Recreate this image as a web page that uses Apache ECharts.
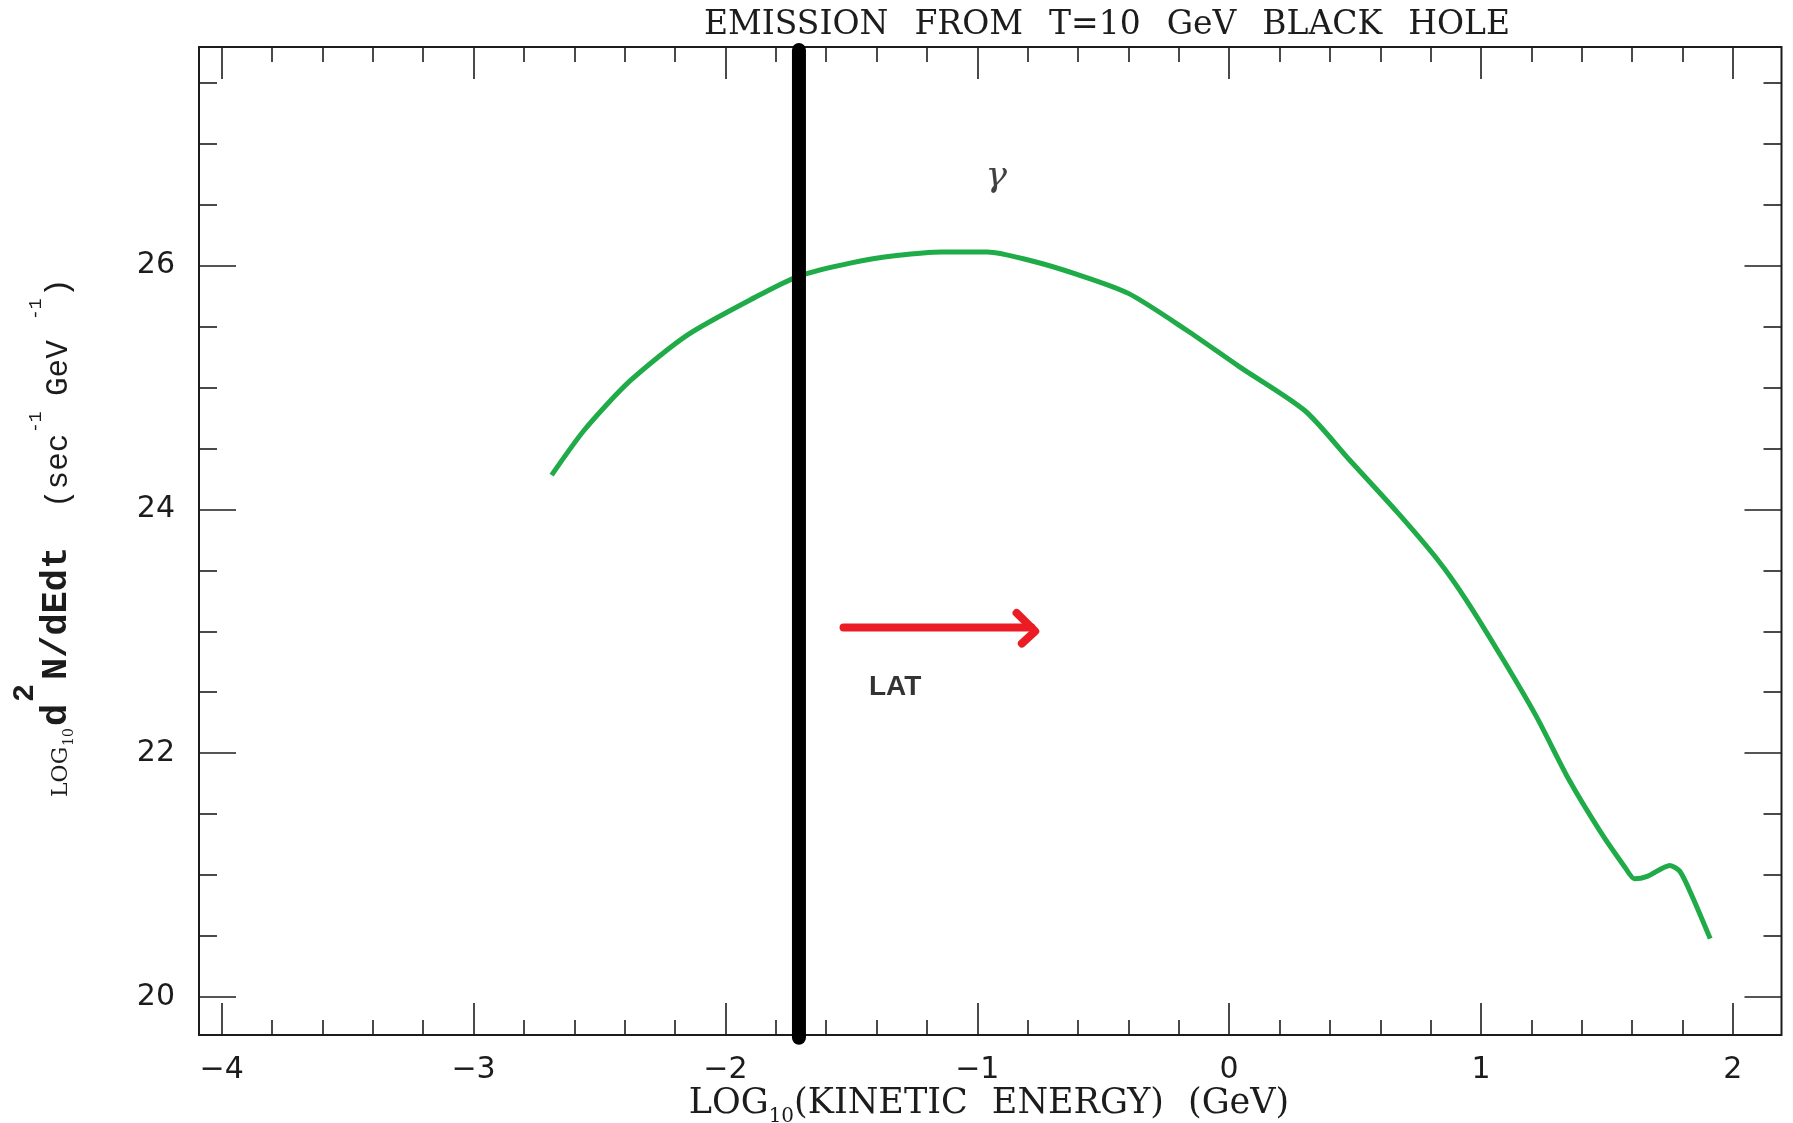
<!DOCTYPE html>
<html><head><meta charset="utf-8">
<script src="https://cdn.jsdelivr.net/npm/echarts@6/dist/echarts.min.js"></script>
<style>html,body{margin:0;padding:0;background:#fff}#c{width:1793px;height:1123px}</style>
</head><body><div id="c"></div>
<script>
// ---- data ----
const energyLog = [-2.69,-2.56,-2.38,-2.15,-1.88,-1.71,-1.50,-1.32,-1.14,-0.96,-0.79,-0.61,-0.40,-0.17,0.04,0.30,0.48,0.67,0.83,0.94,1.09,1.22,1.35,1.47,1.57,1.61,1.66,1.75,1.79,1.84,1.91];
const rateLog   = [24.28,24.65,25.05,25.43,25.74,25.91,26.02,26.08,26.11,26.11,26.04,25.93,25.77,25.47,25.17,24.81,24.40,23.97,23.58,23.26,22.76,22.30,21.78,21.37,21.07,20.97,20.99,21.08,21.03,20.82,20.48];
const thresholdLineX = [-1.708, -1.708];
const thresholdLineY = [19.667, 27.765];
const arrowShaftX = [-1.531, -0.785];
const arrowShaftY = [23.03, 23.03];
const arrowHeadX = [-0.844, -0.770, -0.823];
const arrowHeadY = [23.15, 23.00, 22.90];
const gammaPos = [-0.925, 26.73];
const latPos = [-1.326, 22.54];
const xMajorTicks = [-4,-3,-2,-1,0,1,2];
const xMinorTicks = [-3.8,-3.6,-3.4,-3.2,-2.8,-2.6,-2.4,-2.2,-1.8,-1.6,-1.4,-1.2,-0.8,-0.6,-0.4,-0.2,0.2,0.4,0.6,0.8,1.2,1.4,1.6,1.8];
const yMajorTicks = [20,22,24,26];
const yMinorTicks = [20.5,21,21.5,22.5,23,23.5,24.5,25,25.5,26.5,27,27.5];
const xTickLabels = [-4,-3,-2,-1,0,1,2];
const yTickLabels = [20,22,24,26];
const titleWords = ['EMISSION','FROM','T=10','GeV','BLACK','HOLE'];
const xAxisTitle = 'LOG{s|10}(KINETIC{g| }ENERGY){g| }(GeV)';
// y-axis title pieces (rotated), read bottom to top
const yTitleParts = [
  { text: 'LOG',    font: 'DejaVu Serif',    size: 22, weight: 'normal', x: 61,   y: 797 },
  { text: '10',     font: 'DejaVu Serif',    size: 14, weight: 'normal', x: 69,   y: 746 },
  { text: 'd',      font: 'Liberation Mono', size: 37, weight: 'bold',   x: 57,   y: 726 },
  { text: '2',      font: 'Liberation Mono', size: 30, weight: 'bold',   x: 25,   y: 702 },
  { text: 'N/dEdt', font: 'Liberation Mono', size: 37, weight: 'bold',   x: 57,   y: 680 },
  { text: '(sec',   font: 'Liberation Mono', size: 31, weight: 'normal', x: 58.7, y: 508 },
  { text: '-1',     font: 'Liberation Mono', size: 18, weight: 'normal', x: 36.6, y: 433 },
  { text: 'GeV',    font: 'Liberation Mono', size: 31, weight: 'normal', x: 58.7, y: 396 },
  { text: '-1',     font: 'Liberation Mono', size: 18, weight: 'normal', x: 36.6, y: 320 },
  { text: ')',      font: 'Liberation Mono', size: 31, weight: 'normal', x: 58.7, y: 297 }
];

const X_MIN = -4.09, X_MAX = 2.193, Y_MIN = 19.69, Y_MAX = 27.79;
const ink = '#1c1c1c';
const fmt = v => (v < 0 ? '\u2212' + (-v) : String(v));

function xAx(pos, ticks, len, withLabels) {
  return {
    type: 'value', position: pos, min: X_MIN, max: X_MAX,
    axisLine: { show: false, onZero: false }, splitLine: { show: false },
    axisTick: { show: true, inside: true, length: len, customValues: ticks, lineStyle: { color: ink, width: 1.6 } },
    axisLabel: withLabels ? { show: true, customValues: xTickLabels, margin: 20, formatter: fmt,
      fontFamily: 'DejaVu Sans', fontSize: 30, color: ink } : { show: false }
  };
}
function yAx(pos, ticks, len, withLabels) {
  return {
    type: 'value', position: pos, min: Y_MIN, max: Y_MAX,
    axisLine: { show: false, onZero: false }, splitLine: { show: false },
    axisTick: { show: true, inside: true, length: len, customValues: ticks, lineStyle: { color: ink, width: 1.6 } },
    axisLabel: withLabels ? { show: true, customValues: yTickLabels, margin: 24, formatter: fmt,
      fontFamily: 'DejaVu Sans', fontSize: 30, color: ink } : { show: false }
  };
}

const graphics = [
  { type: 'text', x: 1107, y: 25, z: 10,
    style: { text: titleWords.join('{g| }'), align: 'center', verticalAlign: 'middle', fill: ink,
      fontFamily: 'DejaVu Serif', fontSize: 33, rich: { g: { width: 26 } } } },
  { type: 'text', x: 989, y: 1104, z: 10,
    style: { text: xAxisTitle, align: 'center', verticalAlign: 'middle', fill: ink,
      fontFamily: 'DejaVu Serif', fontSize: 35,
      rich: { s: { fontSize: 20, lineHeight: 20, padding: [20, 0, 0, 0], verticalAlign: 'top', fontFamily: 'DejaVu Serif', fill: ink },
              g: { width: 24 } } } }
];
yTitleParts.forEach(p => graphics.push({
  type: 'text', x: p.x, y: p.y, rotation: Math.PI / 2, z: 10,
  style: { text: p.text, align: 'left', verticalAlign: 'middle', fill: ink,
    fontFamily: p.font, fontSize: p.size, fontWeight: p.weight }
}));

const chart = echarts.init(document.getElementById('c'), null, { renderer: 'canvas', width: 1793, height: 1123 });
chart.setOption({
  animation: false,
  backgroundColor: '#fff',
  grid: { left: 199, right: 11.5, top: 47, bottom: 88, show: true, borderColor: ink, borderWidth: 2, backgroundColor: 'transparent' },
  xAxis: [xAx('bottom', xMajorTicks, 32, true), xAx('bottom', xMinorTicks, 15, false),
          xAx('top', xMajorTicks, 32, false), xAx('top', xMinorTicks, 15, false)],
  yAxis: [yAx('left', yMajorTicks, 37, true), yAx('left', yMinorTicks, 18, false),
          yAx('right', yMajorTicks, 37, false), yAx('right', yMinorTicks, 18, false)],
  series: [
    { type: 'line', name: 'gamma', data: energyLog.map((x, i) => [x, rateLog[i]]), showSymbol: false, smooth: 0.25,
      lineStyle: { color: '#1eab48', width: 5 }, z: 2 },
    { type: 'line', name: 'threshold', data: thresholdLineX.map((x, i) => [x, thresholdLineY[i]]), showSymbol: false, clip: false,
      lineStyle: { color: '#000', width: 14, cap: 'round' }, z: 3 },
    { type: 'line', name: 'arrowShaft', data: arrowShaftX.map((x, i) => [x, arrowShaftY[i]]), showSymbol: false,
      lineStyle: { color: '#ec1c24', width: 8, cap: 'round' }, z: 3 },
    { type: 'line', name: 'arrowHead', data: arrowHeadX.map((x, i) => [x, arrowHeadY[i]]), showSymbol: false,
      lineStyle: { color: '#ec1c24', width: 8, cap: 'round', join: 'round' }, z: 3 },
    { type: 'scatter', name: 'gammaLabel', data: [gammaPos], symbolSize: 1, itemStyle: { color: 'rgba(0,0,0,0)' },
      label: { show: true, position: 'inside', formatter: '\u03b3', fontFamily: 'DejaVu Serif', fontStyle: 'italic', fontSize: 36,
        color: '#111', textBorderWidth: 0 } },
    { type: 'scatter', name: 'latLabel', data: [latPos], symbolSize: 1, itemStyle: { color: 'rgba(0,0,0,0)' },
      label: { show: true, position: 'inside', formatter: 'LAT', fontFamily: 'Liberation Sans', fontWeight: 'bold', fontSize: 28,
        color: '#000', textBorderWidth: 0 } }
  ],
  graphic: graphics
});
</script>
</body></html>
